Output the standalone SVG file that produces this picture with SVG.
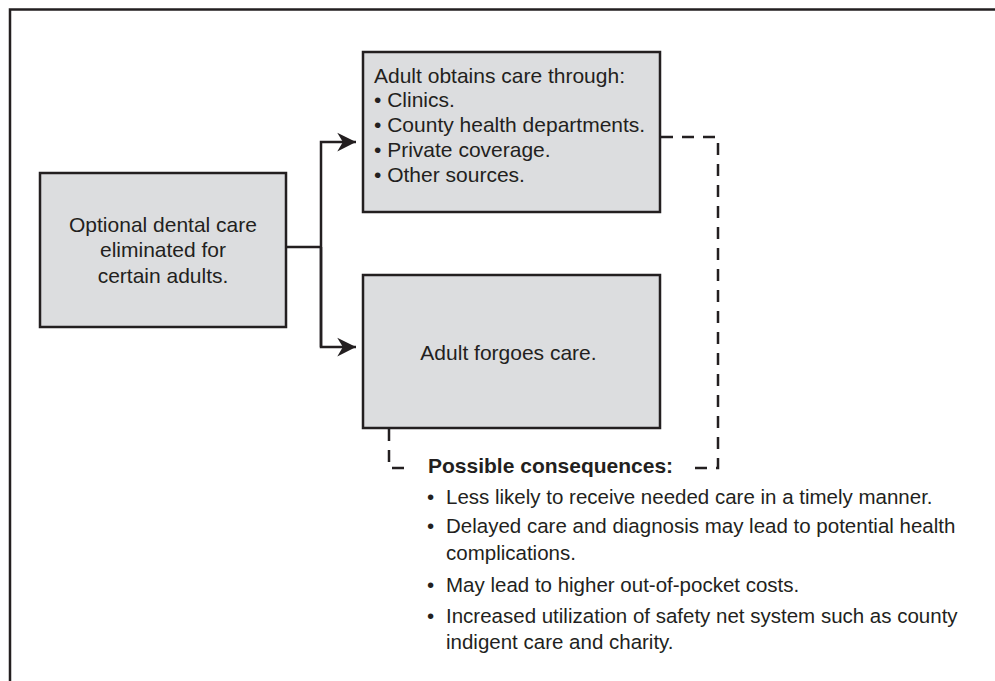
<svg xmlns="http://www.w3.org/2000/svg" width="995" height="681" viewBox="0 0 995 681">
<defs>
<style>
.box{fill:#dcdddf;stroke:#231f20;stroke-width:2.5}
.t{font-family:"Liberation Sans",Arial,sans-serif;font-size:21px;fill:#231f20}
.s{font-family:"Liberation Sans",Arial,sans-serif;font-size:20.5px;fill:#231f20}
.b{font-weight:bold;font-size:21px}
.ln{fill:none;stroke:#231f20;stroke-width:2.5}
.dash{fill:none;stroke:#231f20;stroke-width:2.5;stroke-dasharray:12 9}
</style>
<marker id="ah" viewBox="0 0 10 10" refX="10" refY="5" markerWidth="7.5" markerHeight="8" markerUnits="strokeWidth" orient="auto">
<path d="M0,0 L10,5 L0,10 L3,5 Z" fill="#231f20"/>
</marker>
</defs>
<rect width="995" height="681" fill="#fff"/>
<path d="M10,681 V9.5 H995" fill="none" stroke="#231f20" stroke-width="2.5"/>
<g id="connectors">
<path class="ln" d="M286,247 H321"/>
<path class="ln" d="M321,347 V142 H356" marker-end="url(#ah)"/>
<path class="ln" d="M321,247 V347 H356" marker-end="url(#ah)"/>
<path class="dash" d="M389,429 V468 H404"/>
<path class="dash" d="M661,137 H718 V468 H688"/>
</g>
<g id="start">
<rect class="box" x="40" y="173" width="246" height="154"/>
<text class="t" x="163" y="232" text-anchor="middle">Optional dental care</text>
<text class="t" x="163" y="256.5" text-anchor="middle">eliminated for</text>
<text class="t" x="163" y="282.5" text-anchor="middle">certain adults.</text>
</g>
<g id="obtains">
<rect class="box" x="363" y="52" width="297" height="160"/>
<text class="t" x="374" y="82.5">Adult obtains care through:</text>
<text class="t" x="374" y="107.3">• Clinics.</text>
<text class="t" x="374" y="131.8">• County health departments.</text>
<text class="t" x="374" y="156.6">• Private coverage.</text>
<text class="t" x="374" y="181.5">• Other sources.</text>
</g>
<g id="forgoes">
<rect class="box" x="363" y="275" width="297" height="153"/>
<text class="t" x="508.5" y="360" text-anchor="middle">Adult forgoes care.</text>
</g>
<g id="consequences">
<text class="s b" x="428" y="472.5">Possible consequences:</text>
<text class="s" x="427" y="504">•</text>
<text class="s" x="446" y="504">Less likely to receive needed care in a timely manner.</text>
<text class="s" x="427" y="533">•</text>
<text class="s" x="446" y="533">Delayed care and diagnosis may lead to potential health</text>
<text class="s" x="446" y="560">complications.</text>
<text class="s" x="427" y="592">•</text>
<text class="s" x="446" y="592">May lead to higher out-of-pocket costs.</text>
<text class="s" x="427" y="623">•</text>
<text class="s" x="446" y="623">Increased utilization of safety net system such as county</text>
<text class="s" x="446" y="649">indigent care and charity.</text>
</g>
</svg>
